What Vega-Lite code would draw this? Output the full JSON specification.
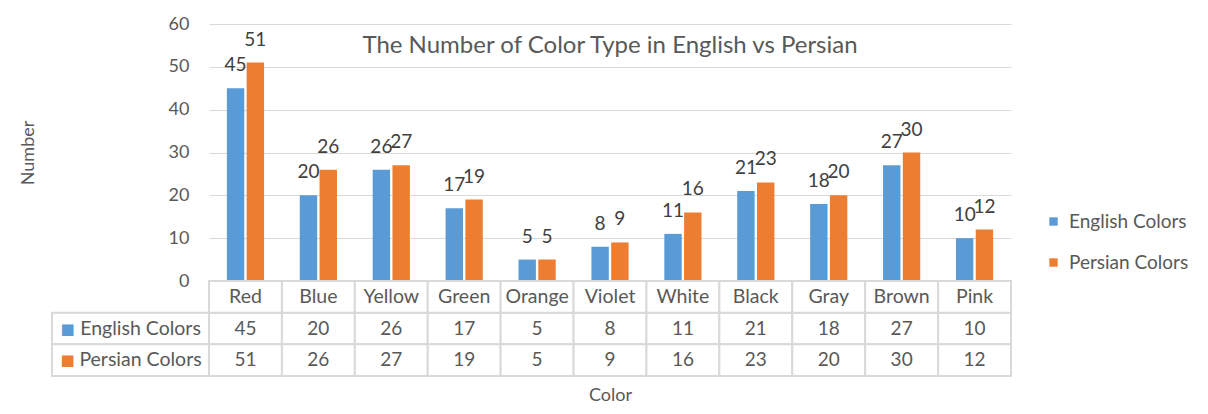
{
  "$schema": "https://vega.github.io/schema/vega-lite/v6.json",
  "padding": {"left": 19, "top": 15, "right": 0, "bottom": 0},
  "background": "white",
  "config": {"view": {"stroke": null}, "font": "Lato", "text": {"font": "Lato"}},
  "data": {"values": [
    {"Color": "Red", "English Colors": 45, "Persian Colors": 51},
    {"Color": "Blue", "English Colors": 20, "Persian Colors": 26},
    {"Color": "Yellow", "English Colors": 26, "Persian Colors": 27},
    {"Color": "Green", "English Colors": 17, "Persian Colors": 19},
    {"Color": "Orange", "English Colors": 5, "Persian Colors": 5},
    {"Color": "Violet", "English Colors": 8, "Persian Colors": 9},
    {"Color": "White", "English Colors": 11, "Persian Colors": 16},
    {"Color": "Black", "English Colors": 21, "Persian Colors": 23},
    {"Color": "Gray", "English Colors": 18, "Persian Colors": 20},
    {"Color": "Brown", "English Colors": 27, "Persian Colors": 30},
    {"Color": "Pink", "English Colors": 10, "Persian Colors": 12}
  ]},
  "transform": [{"fold": ["English Colors", "Persian Colors"], "as": ["Series", "Value"]}],
  "columns": 2,
  "spacing": 0,
  "bounds": "flush",
  "resolve": {"scale": {"color": "independent"}, "legend": {"color": "independent"}},
  "concat": [
    {
      "data": {"values": []},
      "mark": {"type": "point", "opacity": 0},
      "width": 157,
      "height": 257
    },
    {
      "width": 802,
      "height": 257,
      "title": {"text": "The Number of Color Type in English vs Persian", "offset": -43, "fontSize": 24, "fontWeight": "normal", "color": "#595959", "font": "Lato"},
      "encoding": {
        "x": {"field": "Color", "type": "nominal", "sort": null,
          "scale": {"domain": ["Red","Blue","Yellow","Green","Orange","Violet","White","Black","Gray","Brown","Pink"], "paddingInner": 0.49, "paddingOuter": 0.245},
          "axis": null},
        "xOffset": {"field": "Series", "type": "nominal", "scale": {"domain": ["English Colors", "Persian Colors"], "paddingInner": 0.12}},
        "y": {"field": "Value", "type": "quantitative",
          "scale": {"domain": [0, 60]},
          "axis": {"values": [0, 10, 20, 30, 40, 50, 60], "title": "Number", "grid": true, "gridColor": "#d9d9d9", "gridWidth": 1,
            "domain": false, "ticks": false, "labelPadding": 20, "labelFontSize": 18, "labelColor": "#595959", "labelFont": "Lato",
            "titleFontSize": 18, "titleFontWeight": "normal", "titleColor": "#595959", "titleFont": "Lato", "titlePadding": 131}}
      },
      "layer": [
        {
          "mark": {"type": "bar"},
          "encoding": {
            "color": {"field": "Series", "type": "nominal",
              "scale": {"domain": ["English Colors", "Persian Colors"], "range": ["#5b9bd5", "#ed7d31"]},
              "legend": {"orient": "none", "legendX": 835, "legendY": 188, "title": null, "symbolType": "square", "symbolSize": 70,
                "symbolStrokeWidth": 0, "labelFontSize": 19, "labelColor": "#595959", "labelFont": "Lato", "rowPadding": 21, "labelOffset": 6}}
          }
        },
        {
          "mark": {"type": "text", "dy": -23, "fontSize": 19, "color": "#404040", "font": "Lato"},
          "encoding": {"text": {"field": "Value", "type": "quantitative"}}
        }
      ]
    },
    {
      "width": 157,
      "height": 95,
      "transform": [{"aggregate": [], "groupby": ["Series"]}],
      "encoding": {
        "y": {"field": "Series", "type": "nominal",
          "scale": {"domain": ["Header", "English Colors", "Persian Colors"], "paddingInner": 0, "paddingOuter": 0},
          "axis": null}
      },
      "layer": [
        {"mark": {"type": "rect", "fill": "white", "stroke": "#d9d9d9", "strokeWidth": 2}},
        {"mark": {"type": "text", "text": "■", "dx": -63, "fontSize": 15, "font": "DejaVu Sans"},
         "encoding": {"color": {"field": "Series", "type": "nominal", "scale": {"domain": ["English Colors", "Persian Colors"], "range": ["#5b9bd5", "#ed7d31"]}, "legend": null}}},
        {"mark": {"type": "text", "dx": 10, "fontSize": 19.5, "color": "#595959", "font": "Lato"},
         "encoding": {"text": {"field": "Series", "type": "nominal"}}}
      ]
    },
    {
      "width": 802,
      "height": 95,
      "encoding": {
        "x": {"field": "Color", "type": "nominal", "sort": null,
          "scale": {"domain": ["Red","Blue","Yellow","Green","Orange","Violet","White","Black","Gray","Brown","Pink"], "paddingInner": 0, "paddingOuter": 0},
          "axis": {"title": "Color", "labels": false, "ticks": false, "domain": false, "grid": false,
            "titleFontSize": 18, "titleColor": "#595959", "titleFontWeight": "normal", "titleFont": "Lato", "titlePadding": 10}}
      },
      "layer": [
        {
          "mark": {"type": "rect", "fill": "white", "stroke": "#d9d9d9", "strokeWidth": 2},
          "encoding": {"y": {"field": "Series", "type": "nominal",
            "scale": {"domain": ["Header", "English Colors", "Persian Colors"], "paddingInner": 0, "paddingOuter": 0},
            "axis": null}}
        },
        {
          "transform": [{"aggregate": [], "groupby": ["Color"]}],
          "mark": {"type": "rect", "fill": "white", "stroke": "#d9d9d9", "strokeWidth": 2},
          "encoding": {"y": {"datum": "Header", "type": "nominal"}}
        },
        {
          "mark": {"type": "text", "fontSize": 19, "color": "#595959", "font": "Lato"},
          "encoding": {"y": {"field": "Series", "type": "nominal"}, "text": {"field": "Value", "type": "quantitative"}}
        },
        {
          "transform": [{"aggregate": [], "groupby": ["Color"]}],
          "mark": {"type": "text", "fontSize": 19.5, "color": "#595959", "font": "Lato"},
          "encoding": {"y": {"datum": "Header", "type": "nominal"}, "text": {"field": "Color", "type": "nominal"}}
        }
      ]
    }
  ]
}
